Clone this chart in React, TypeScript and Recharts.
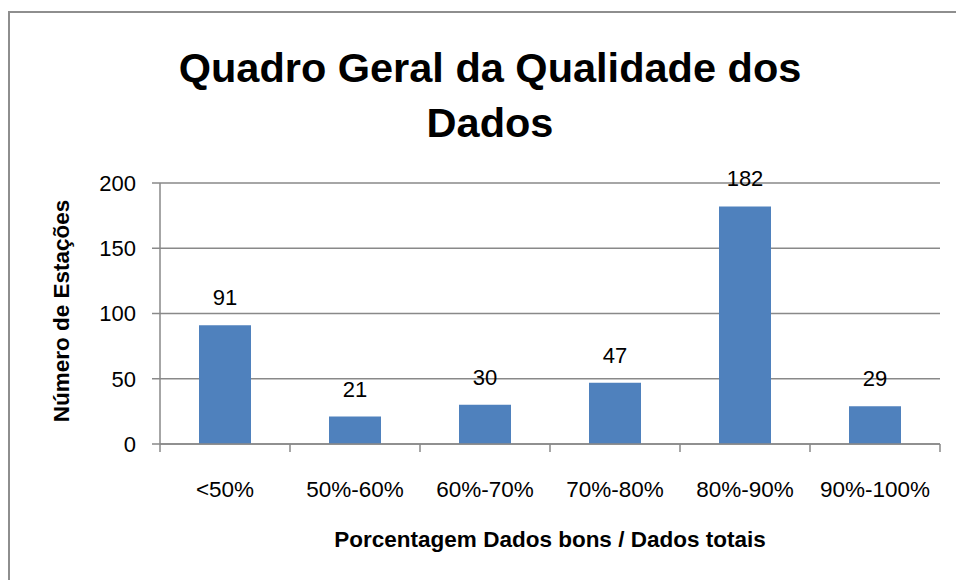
import { BarChart, Bar, XAxis, YAxis, CartesianGrid, LabelList } from 'recharts';

const CATEGORIES = ['<50%', '50%-60%', '60%-70%', '70%-80%', '80%-90%', '90%-100%'];
const STATIONS = [91, 21, 30, 47, 182, 29];
const Y_TICKS = [0, 50, 100, 150, 200];

const data = CATEGORIES.map((faixa, i) => ({ faixa, estacoes: STATIONS[i] }));

const W = 956;
const H = 580;
const MARGIN = { top: 183, right: 16, bottom: 76, left: 100 };
const Y_AXIS_W = 60;
const BAND = (W - MARGIN.left - MARGIN.right - Y_AXIS_W) / CATEGORIES.length;
const FONT = '"Liberation Sans", Arial, sans-serif';
const GRID = '#898989';

// category tick: label plus Excel-style divider ticks between categories
function CategoryTick(props: any) {
  const { x, y, payload, index } = props;
  const half = BAND / 2;
  const top = y - 8;
  return (
    <g>
      <line x1={x - half} x2={x - half} y1={top} y2={top + 8} stroke={GRID} strokeWidth={1.5} />
      {index === CATEGORIES.length - 1 && (
        <line x1={x + half} x2={x + half} y1={top} y2={top + 8} stroke={GRID} strokeWidth={1.5} />
      )}
      <text x={x} y={y + 45} textAnchor="middle" fill="#000" fontSize={22.5} fontFamily={FONT}>
        {payload.value}
      </text>
    </g>
  );
}

export default function App() {
  return (
    <div style={{ position: 'absolute', left: 0, top: 0, width: W, height: H, overflow: 'hidden', background: '#fff' }}>
      <div
        style={{
          position: 'absolute',
          left: 8,
          top: 11,
          width: 1000,
          height: 700,
          border: '2px solid #8e8e8e',
        }}
      />
      <div
        style={{
          position: 'absolute',
          left: 140,
          width: 700,
          top: 40,
          textAlign: 'center',
          fontFamily: FONT,
          fontWeight: 700,
          fontSize: 41.5,
          lineHeight: '55px',
          color: '#000',
        }}
      >
        Quadro Geral da Qualidade dos
        <br />
        Dados
      </div>
      <div
        style={{
          position: 'absolute',
          left: 62,
          top: 311,
          transform: 'translate(-50%, -50%) rotate(-90deg)',
          whiteSpace: 'nowrap',
          fontFamily: FONT,
          fontWeight: 700,
          fontSize: 22.5,
          color: '#000',
        }}
      >
        Número de Estações
      </div>
      <div
        style={{
          position: 'absolute',
          left: 550,
          top: 540,
          transform: 'translate(-50%, -50%)',
          whiteSpace: 'nowrap',
          fontFamily: FONT,
          fontWeight: 700,
          fontSize: 22.5,
          color: '#000',
        }}
      >
        Porcentagem Dados bons / Dados totais
      </div>
      <div style={{ position: 'absolute', left: 0, top: 0 }}>
        <BarChart width={W} height={H} data={data} margin={MARGIN} barCategoryGap="30%">
          <CartesianGrid vertical={false} stroke={GRID} strokeWidth={1.5} />
          <XAxis
            dataKey="faixa"
            height={60}
            axisLine={{ stroke: GRID, strokeWidth: 1.5 }}
            tickLine={false}
            tick={<CategoryTick />}
            interval={0}
          />
          <YAxis
            width={Y_AXIS_W}
            domain={[0, 200]}
            ticks={Y_TICKS}
            axisLine={{ stroke: GRID, strokeWidth: 1.5 }}
            tickLine={{ stroke: GRID, strokeWidth: 1.5 }}
            tickSize={8}
            tick={{ fill: '#000', fontSize: 22, fontFamily: FONT }}
            tickMargin={16}
          />
          <Bar dataKey="estacoes" fill="#4f81bd" isAnimationActive={false}>
            <LabelList dataKey="estacoes" position="top" offset={20} fill="#000" fontSize={22} fontFamily={FONT} />
          </Bar>
        </BarChart>
      </div>
    </div>
  );
}
